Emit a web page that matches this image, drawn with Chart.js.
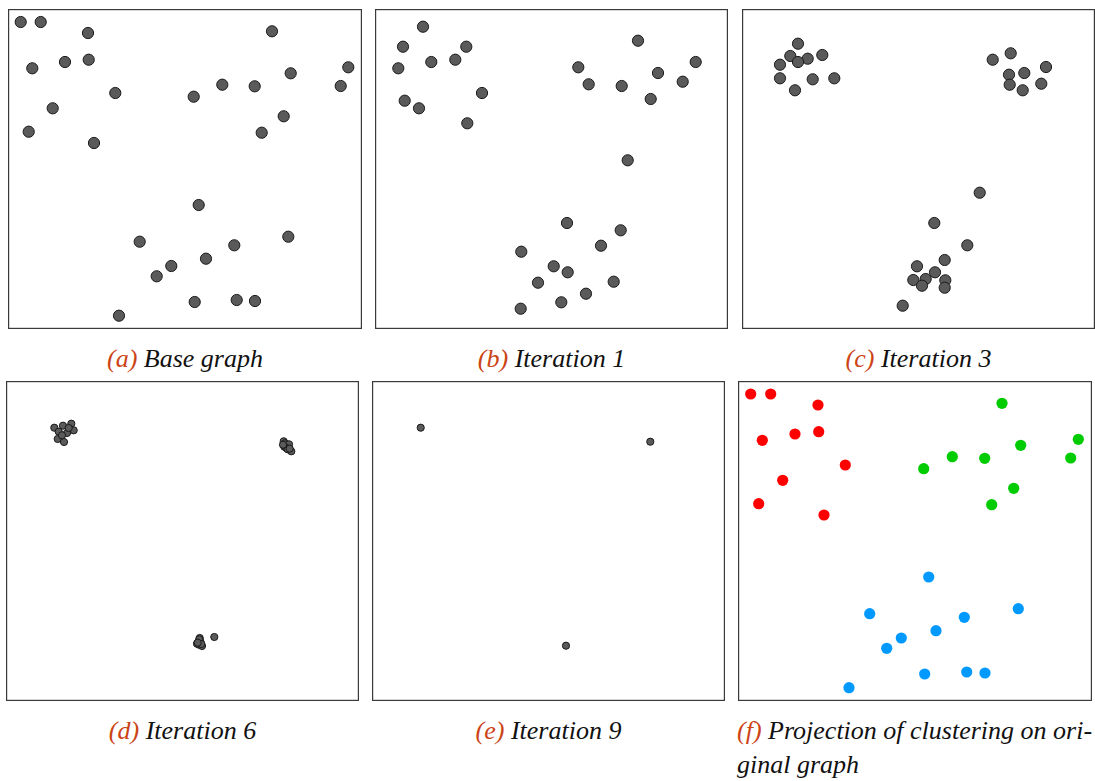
<!DOCTYPE html>
<html>
<head>
<meta charset="utf-8">
<script src="https://cdn.jsdelivr.net/npm/chart.js@4/dist/chart.umd.min.js"></script>
<style>
  html, body { margin: 0; padding: 0; background: #fff; }
  body { width: 1095px; height: 781px; position: relative; overflow: hidden; }
  .panel { position: absolute; }
  .panel canvas { display: block; }
  .cap {
    position: absolute; font-family: "Liberation Serif", serif; font-style: italic;
    font-size: 26px; line-height: 34px; color: #111; white-space: nowrap; text-align: center;
  }
  .cap .tag { color: #cc4416; }
</style>
</head>
<body>
<div class="panel" id="pa" style="left:8px;top:9px"><canvas id="ca" width="354" height="320"></canvas></div>
<div class="panel" id="pb" style="left:375px;top:9px"><canvas id="cb" width="353" height="320"></canvas></div>
<div class="panel" id="pc" style="left:742px;top:9px"><canvas id="cc" width="353" height="320"></canvas></div>
<div class="panel" id="pd" style="left:6px;top:381px"><canvas id="cd" width="353" height="320"></canvas></div>
<div class="panel" id="pe" style="left:372px;top:381px"><canvas id="ce" width="353" height="320"></canvas></div>
<div class="panel" id="pf" style="left:738px;top:381px"><canvas id="cf" width="354" height="320"></canvas></div>

<div class="cap" style="left:8px;width:354px;top:342px"><span class="tag">(a)</span> Base graph</div>
<div class="cap" style="left:375px;width:353px;top:342px"><span class="tag">(b)</span> Iteration 1</div>
<div class="cap" style="left:742px;width:353px;top:342px"><span class="tag">(c)</span> Iteration 3</div>
<div class="cap" style="left:6px;width:353px;top:714px"><span class="tag">(d)</span> Iteration 6</div>
<div class="cap" style="left:372px;width:353px;top:714px"><span class="tag">(e)</span> Iteration 9</div>
<div class="cap" style="left:737px;top:714px;text-align:left"><span class="tag">(f)</span> Projection of clustering on ori-<br>ginal graph</div>

<script>
// Node positions (x, y) in layout units; the frame spans 0..353 by 0..320.
const basePoints = [
  [12.7, 307.0], [32.7, 307.0], [80.0, 296.0], [264.0, 297.7], [24.3, 260.7],
  [57.0, 267.0], [80.7, 269.3], [340.3, 261.7], [282.7, 255.7], [107.3, 236.0],
  [185.7, 232.3], [214.3, 244.3], [246.7, 242.7], [332.7, 243.0], [44.7, 220.7],
  [275.7, 212.7], [20.7, 197.3], [86.0, 186.0], [253.7, 196.3], [190.7, 124.0],
  [280.3, 92.3], [131.7, 87.3], [226.3, 83.7], [198.0, 70.3], [163.3, 63.0],
  [148.7, 52.7], [186.7, 27.0], [228.7, 29.0], [247.0, 28.0], [111.0, 13.3]
];

const iteration1Points = [
  [48.0, 302.3], [28.0, 282.3], [91.3, 282.3], [23.3, 260.7], [56.3, 267.0],
  [80.3, 269.3], [107.0, 236.0], [29.7, 228.3], [44.0, 220.7], [92.3, 205.7],
  [263.0, 288.3], [203.3, 261.7], [320.7, 267.0], [283.0, 256.0], [213.7, 244.7],
  [246.7, 243.0], [307.7, 247.3], [275.7, 230.0], [252.7, 168.7], [192.0, 106.0],
  [245.7, 98.7], [226.0, 83.3], [146.3, 77.3], [178.7, 62.7], [192.7, 56.7],
  [163.0, 46.3], [238.7, 47.3], [211.0, 35.3], [186.3, 26.7], [145.7, 20.3]
];

const iteration3Points = [
  [56.0, 285.3], [48.3, 273.0], [65.7, 270.3], [80.3, 274.0], [56.0, 267.0],
  [38.0, 264.3], [38.0, 250.7], [70.7, 249.7], [92.3, 250.7], [53.0, 238.7],
  [250.7, 269.3], [268.7, 275.7], [304.0, 262.0], [267.0, 254.3], [282.3, 256.0],
  [267.7, 244.3], [280.7, 238.7], [299.3, 245.3], [237.7, 136.3], [192.3, 106.0],
  [225.3, 83.7], [202.7, 69.0], [175.0, 62.7], [193.0, 56.7], [171.3, 49.0],
  [183.7, 50.0], [203.3, 48.7], [180.0, 43.3], [202.7, 41.3], [160.7, 23.3]
];

const iteration6Points = [
  [48.3, 273.3], [57.0, 275.3], [65.3, 277.3], [52.7, 269.3], [61.0, 268.0],
  [67.7, 270.7], [51.7, 262.0], [58.0, 259.0], [62.7, 273.0], [56.0, 265.7],
  [277.7, 259.7], [279.0, 257.7], [283.0, 256.7], [278.3, 254.3], [280.3, 253.0],
  [281.7, 251.7], [285.3, 249.7], [277.0, 256.3], [283.7, 252.3],
  [193.7, 63.0], [194.0, 60.3], [191.0, 57.3], [193.0, 56.3], [196.0, 55.0],
  [208.3, 64.0], [192.3, 59.0], [194.7, 58.3], [193.3, 61.7], [195.3, 57.0], [191.7, 58.3]
];

const iteration9Points = [
  [48.7, 273.3], [278.3, 259.3], [194.0, 55.3]
];

// Cluster found for each base node (0 = red, 1 = green, 2 = blue).
const clusterOf = [
  0, 0, 0, 1, 0, 0, 0, 1, 1, 0,
  1, 1, 1, 1, 0, 1, 0, 0, 1, 2,
  2, 2, 2, 2, 2, 2, 2, 2, 2, 2
];
const clusterColors = ['#ff0000', '#00cc00', '#0099ff'];

const X_MAX = 353, Y_MAX = 320;

// Thin frame round the plotting area.
const framePlugin = {
  id: 'frame',
  afterDraw(chart) {
    const { ctx, chartArea: a } = chart;
    ctx.save();
    ctx.strokeStyle = '#3a3a3a';
    ctx.lineWidth = 1.2;
    ctx.strokeRect(a.left + 0.6, a.top + 0.6, a.right - a.left - 1.2, a.bottom - a.top - 1.2);
    ctx.restore();
  }
};

function toXY(pts) { return pts.map(p => ({ x: p[0], y: p[1] })); }

function makeChart(id, datasets, width) {
  new Chart(document.getElementById(id), {
    type: 'scatter',
    data: { datasets },
    options: {
      responsive: false,
      animation: false,
      events: [],
      layout: { padding: 0, autoPadding: false },
      plugins: { legend: { display: false }, tooltip: { enabled: false } },
      scales: {
        x: { type: 'linear', display: false, min: 0, max: width },
        y: { type: 'linear', display: false, min: 0, max: Y_MAX }
      }
    },
    plugins: [framePlugin]
  });
}

function grayNodes(pts, r) {
  return [{
    data: toXY(pts),
    pointRadius: r,
    pointBackgroundColor: '#5a5a5a',
    pointBorderColor: '#1a1a1a',
    pointBorderWidth: 1,
    clip: false
  }];
}

makeChart('ca', grayNodes(basePoints, 5.6), 354);
makeChart('cb', grayNodes(iteration1Points, 5.6), X_MAX);
makeChart('cc', grayNodes(iteration3Points, 5.6), X_MAX);
makeChart('cd', grayNodes(iteration6Points, 3.6), X_MAX);
makeChart('ce', grayNodes(iteration9Points, 3.6), X_MAX);

const clusterSets = clusterColors.map((col, k) => ({
  data: toXY(basePoints.filter((_, i) => clusterOf[i] === k)),
  pointRadius: 5.6,
  pointBackgroundColor: col,
  pointBorderWidth: 0,
  clip: false
}));
makeChart('cf', clusterSets, 354);
</script>
</body>
</html>
